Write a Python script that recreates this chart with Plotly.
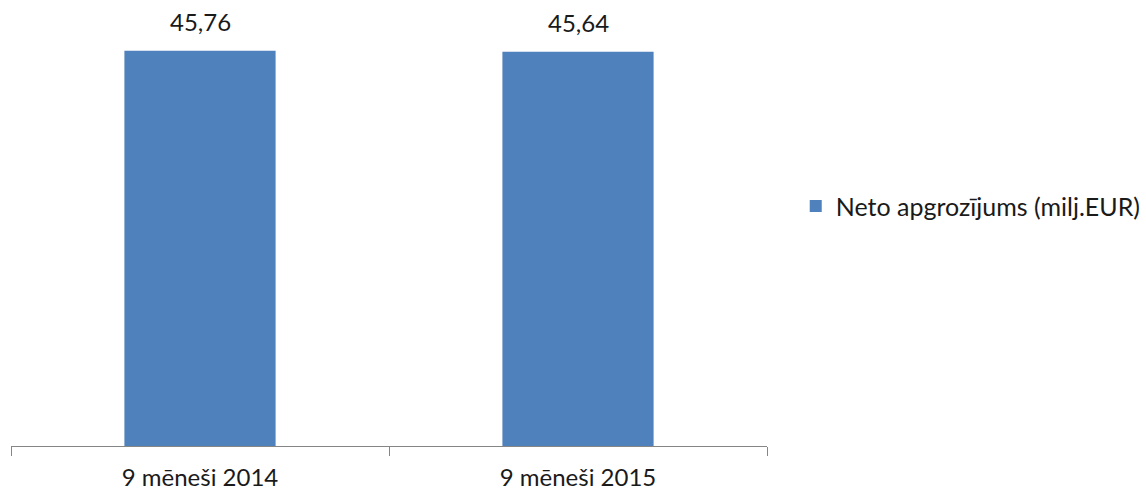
import plotly.graph_objects as go

categories = ["9 mēneši 2014", "9 mēneši 2015"]
values = [45.76, 45.64]
labels = ["45,76", "45,64"]
series_name = "Neto apgrozījums (milj.EUR)"

FONT = "Lato"
fig = go.Figure()
fig.add_trace(go.Bar(
    x=categories, y=values, name=series_name,
    marker=dict(color="#4F81BD", line=dict(width=0)),
    width=0.4, showlegend=True,
))
for c, v, t in zip(categories, values, labels):
    fig.add_annotation(x=c, y=v, text=t, showarrow=False, yanchor="bottom",
                       yshift=13, font=dict(family=FONT, size=24, color="#1a1a1a"))

fig.update_layout(
    width=1146, height=493,
    margin=dict(l=11, r=379, t=14, b=47, autoexpand=False),
    paper_bgcolor="white", plot_bgcolor="white",
    font=dict(family=FONT, size=24, color="#1a1a1a"),
    bargap=0.6,
    showlegend=True,
    legend=dict(x=1.038, y=0.555, xanchor="left", yanchor="middle",
                font=dict(family=FONT, size=25, color="#1a1a1a"),
                bgcolor="rgba(0,0,0,0)", itemwidth=30),
    xaxis=dict(showline=True, linecolor="#868686", linewidth=1,
               ticks="outside", tickson="boundaries", ticklen=9,
               tickcolor="#868686", showgrid=False, zeroline=False,
               ticklabelstandoff=10, automargin=False,
               tickfont=dict(family=FONT, size=24, color="#1a1a1a")),
    yaxis=dict(range=[0, 50], visible=False, showgrid=False, zeroline=False,
               automargin=False),
)
fig.write_html("out.html")
